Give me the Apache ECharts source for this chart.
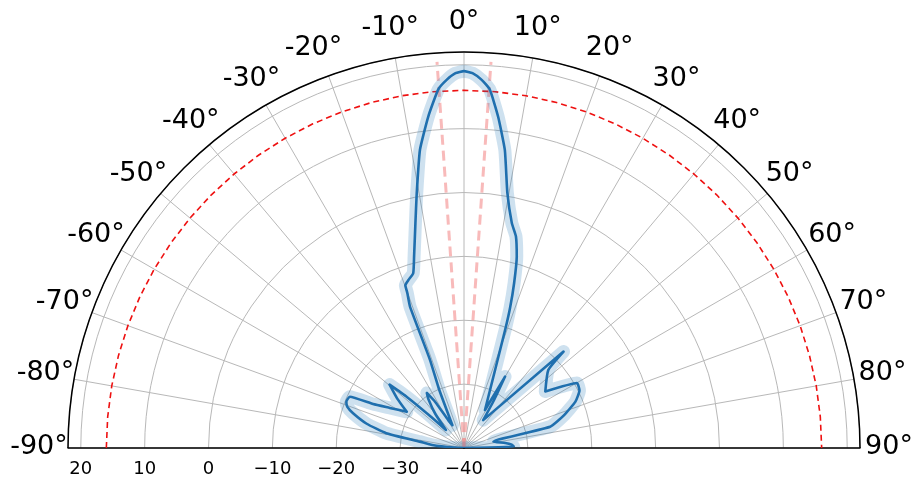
<!DOCTYPE html>
<html><head><meta charset="utf-8">
<script src="https://cdn.jsdelivr.net/npm/echarts@6/dist/echarts.min.js"></script>
<style>html,body{margin:0;padding:0;background:#fff}#c{width:911px;height:482px}</style>
</head><body><div id="c"></div>
<script>
// angular ticks (degrees) and their labels
const angleTicks = [-90,-80,-70,-60,-50,-40,-30,-20,-10,0,10,20,30,40,50,60,70,80,90];
const angleTickLabels = ['-90°','-80°','-70°','-60°','-50°','-40°','-30°','-20°','-10°','0°','10°','20°','30°','40°','50°','60°','70°','80°','90°'];
// radial ticks (dB) and labels
const radialTicks = [-40,-30,-20,-10,0,10,20];
const radialTickLabels = ['\u221240','\u221230','\u221220','\u221210','0','10','20'];
const radialMin = -40, radialMax = 22;

// measured pattern: angle (deg) and gain (dB), in drawing order
const patternAngles = [-90,-88,-84.5,-81.8,-79.2,-76,-72.6,-70.5,-68.5,-65.8,-64.2,-61.6,-57.7,-53.5,-49.6,-48.2,-46.5,-45,-40,-36,-34,-32,-29.5,-27,-23,-21.1,
  -20.9,-20.1,-19.8,-18.3,-16.2,-14.6,-12.2,-10.5,-8.4,-6.15,-4.1,-2.7,-1.3,0,1.3,2.75,4.1,5.9,7.8,9.65,12.0,13.8,15.4,16.9,18.2,19.2,
  28.9,29.9,32,34.6,45.9,47.2,55.2,60.1,63.5,67.4,72,76.1,78,83,86,88.5,90];
const patternGain   = [-40,-38.5,-35,-33,-27.6,-24.3,-21.8,-20.6,-20.2,-20.4,-24.2,-26.8,-29.4,-27.0,-24.7,-28,-33,-36,-33,-30.5,-29.6,-31.5,-35,-36,-30,-25.2,
  -16.3,-14.2,-12.9,-12.3,-11.5,-9.0,-4.0,0.6,7.2,12.2,16.3,17.7,18.7,19.0,18.7,17.7,16.3,12.1,7.1,0.5,-4.0,-5.9,-8.9,-13.0,-16.9,-20.4,
  -33.2,-27.1,-31,-34.7,-18.3,-22,-24.5,-19.6,-19.8,-21.1,-23.6,-26.1,-35.3,-33.5,-32.5,-32.2,-40];

// half-power level (dB) and half-power beam edges (deg)
const halfPowerLevel = 16;
const halfPowerArcAngles = [-90,-85,-80,-75,-70,-65,-60,-55,-50,-45,-40,-35,-30,-25,-20,-15,-10,-5,0,5,10,15,20,25,30,35,40,45,50,55,60,65,70,75,80,85,90];
const beamEdgeAngles = [-4, 4];
const beamEdgeTop = 20.6;

const patternData = patternAngles.map((a, i) => [patternGain[i], a]);
const arcData = halfPowerArcAngles.map(a => [halfPowerLevel, a]);

const center = [464, 448];
const R = 396;
const font = 'DejaVu Sans';
const angleFontSize = 27;
const labelRadius = 425;   // px, where angle label centres sit
const labelLift = 1;       // px
const labelMargin = -40;

// per-label rich padding so each angle label is centred on its spot
const mctx = document.createElement('canvas').getContext('2d');
mctx.font = angleFontSize + 'px "' + font + '"';
const rich = {};
angleTicks.forEach((v, i) => {
  const t = v * Math.PI / 180, s = Math.sin(t), c = Math.cos(t);
  const w = mctx.measureText(angleTickLabels[i]).width;
  const h = angleFontSize;
  const ax = center[0] + (R + labelMargin) * s, ay = center[1] - (R + labelMargin) * c;
  const tx = center[0] + labelRadius * s, ty = center[1] - labelRadius * c - labelLift;
  const align = Math.abs(ax - center[0]) / R < 0.3 ? 'center' : (ax > center[0] ? 'left' : 'right');
  const valign = Math.abs(ay - center[1]) / R < 0.3 ? 'middle' : (ay > center[1] ? 'top' : 'bottom');
  let pl = 0, pr = 0, pt = 0, pb = 0;
  if (align === 'center') { const d = tx - ax; if (d > 0) pl = 2 * d; else pr = -2 * d; }
  else if (align === 'left') pl = tx - ax - w / 2;
  else pr = ax - tx - w / 2;
  if (valign === 'middle') { const d = ty - ay; if (d > 0) pt = 2 * d; else pb = -2 * d; }
  else if (valign === 'bottom') pb = ay - ty - h / 2;
  else pt = ty - ay - h / 2;
  rich['a' + i] = {
    fontSize: angleFontSize, fontFamily: font, color: '#000',
    padding: [Math.max(0, pt), Math.max(0, pr), Math.max(0, pb), Math.max(0, pl)]
  };
});

const chart = echarts.init(document.getElementById('c'), null, {renderer: 'canvas'});
chart.setOption({
  animation: false,
  backgroundColor: '#fff',
  polar: [
    {center: center, radius: R},
    {center: center, radius: R}
  ],
  angleAxis: [{
    polarIndex: 0,
    type: 'value', min: -90, max: 90, interval: 10,
    startAngle: 180, endAngle: 0, clockwise: true,
    axisLine: {show: true, lineStyle: {color: '#000', width: 1.5}},
    axisTick: {show: false},
    axisLabel: {
      show: true, margin: labelMargin, fontSize: angleFontSize, fontFamily: font, color: '#000',
      formatter: v => { const i = angleTicks.indexOf(v); return i >= 0 ? '{a' + i + '|' + angleTickLabels[i] + '}' : ''; },
      rich: rich
    },
    splitLine: {show: true, lineStyle: {color: '#b8b8b8', width: 1}}
  }, {
    polarIndex: 1,
    type: 'value', min: 0, max: 360, startAngle: 0,
    axisLine: {show: false}, axisTick: {show: false}, axisLabel: {show: false}, splitLine: {show: false}
  }],
  radiusAxis: [{
    polarIndex: 0,
    type: 'value', min: radialMin, max: radialMax, interval: 10,
    axisLine: {show: true, lineStyle: {color: '#000', width: 1.5}},
    axisTick: {show: false},
    axisLabel: {
      show: true, margin: 12, fontSize: 18, fontFamily: font, color: '#000',
      showMaxLabel: false,
      formatter: v => { const i = radialTicks.indexOf(v); return i >= 0 ? radialTickLabels[i] : ''; }
    },
    splitLine: {show: true, lineStyle: {color: '#b8b8b8', width: 1}}
  }, {
    polarIndex: 1,
    type: 'value', min: radialMin, max: radialMax,
    axisLine: {show: true, lineStyle: {color: '#000', width: 1.5}},
    axisTick: {show: false}, axisLabel: {show: false}, splitLine: {show: false}
  }],
  series: [
    {
      type: 'line', coordinateSystem: 'polar', polarIndex: 0, showSymbol: false, z: 3,
      data: [[radialMin, beamEdgeAngles[0]], [beamEdgeTop, beamEdgeAngles[0]]],
      lineStyle: {color: 'rgba(244,140,140,0.6)', width: 3, type: [10, 6]}
    },
    {
      type: 'line', coordinateSystem: 'polar', polarIndex: 0, showSymbol: false, z: 3,
      data: [[radialMin, beamEdgeAngles[1]], [beamEdgeTop, beamEdgeAngles[1]]],
      lineStyle: {color: 'rgba(244,140,140,0.6)', width: 3, type: [10, 6]}
    },
    {
      type: 'line', coordinateSystem: 'polar', polarIndex: 0, showSymbol: false, z: 4,
      data: arcData,
      lineStyle: {color: '#ee1111', width: 1.6, type: [6, 4]}
    },
    {
      type: 'line', coordinateSystem: 'polar', polarIndex: 0, showSymbol: false, z: 5,
      data: patternData, smooth: 0.15,
      lineStyle: {color: 'rgba(31,119,180,0.22)', width: 13, join: 'round', cap: 'round'}
    },
    {
      type: 'line', coordinateSystem: 'polar', polarIndex: 0, showSymbol: false, z: 6,
      data: patternData, smooth: 0.15,
      lineStyle: {color: '#1f6fae', width: 2.6, join: 'round'}
    }
  ]
});
</script>
</body></html>
